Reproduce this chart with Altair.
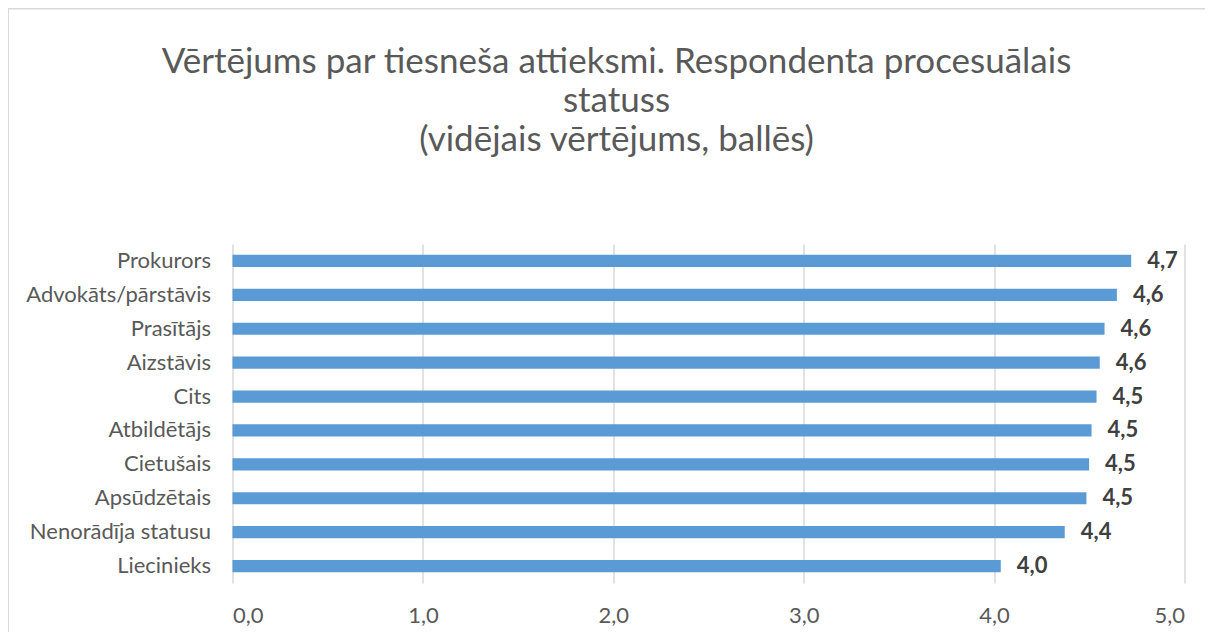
import altair as alt
import pandas as pd

categories = ["Prokurors", "Advokāts/pārstāvis", "Prasītājs", "Aizstāvis", "Cits",
              "Atbildētājs", "Cietušais", "Apsūdzētais", "Nenorādīja statusu", "Liecinieks"]
values = [4.72, 4.645, 4.58, 4.555, 4.538, 4.512, 4.499, 4.485, 4.371, 4.035]
x_ticks = [0, 1, 2, 3, 4, 5]
title_lines = ["Vērtējums par tiesneša attieksmi. Respondenta procesuālais",
               "statuss", "(vidējais vērtējums, ballēs)"]

df = pd.DataFrame({"statuss": categories, "vertejums": values})

FONT = "Lato"

base = alt.Chart(df).encode(
    y=alt.Y("statuss:N", sort=categories, title=None,
            scale=alt.Scale(paddingInner=0.64, paddingOuter=0.32),
            axis=alt.Axis(labelFont=FONT, labelFontSize=22, labelColor="#595959",
                          labelPadding=22, labelLimit=400, ticks=False, domain=False, grid=False)),
)

bars = base.mark_bar(color="#5B9BD5").encode(
    x=alt.X("vertejums:Q", title=None,
            scale=alt.Scale(domain=[0, 5], nice=False),
            axis=alt.Axis(values=x_ticks, labelExpr="replace(format(datum.value, '.1f'), '.', ',')",
                          labelFont=FONT, labelFontSize=22, labelColor="#595959",
                          labelPadding=22, ticks=False, domain=False,
                          grid=True, gridColor="#D9D9D9", gridWidth=1.5)),
)

labels = base.mark_text(align="left", baseline="middle", dx=16, font=FONT,
                        fontSize=22, fontWeight="bold", color="#404040").transform_calculate(
    lbl="replace(format(datum.vertejums, '.1f'), '.', ',')"
).encode(
    x=alt.X("vertejums:Q", scale=alt.Scale(domain=[0, 5], nice=False)),
    text="lbl:N",
)

frame_df = pd.DataFrame({"k": [0]})
frame_left = alt.Chart(frame_df).mark_rule(color="#D9D9D9", strokeWidth=2).encode(
    x=alt.value(-224.5), y=alt.value(-236), y2=alt.value(400))
frame_top = alt.Chart(frame_df).mark_rule(color="#D9D9D9", strokeWidth=2).encode(
    y=alt.value(-235.5), x=alt.value(-225.5), x2=alt.value(1000))

chart = alt.layer(frame_left, frame_top, bars, labels).properties(
    width=952, height=339,
    title=alt.TitleParams(title_lines, font=FONT, fontSize=35, fontWeight="normal",
                          color="#595959", anchor="middle", dx=-92, offset=80, dy=231,
                          lineHeight=39),
    autosize=alt.AutoSizeParams(type="none"),
    padding={"left": 224.5, "top": 236, "right": 20, "bottom": 49},
).configure(background="white").configure_view(stroke=None)

chart.save("out.html", embed_options={"renderer": "svg", "actions": False})
